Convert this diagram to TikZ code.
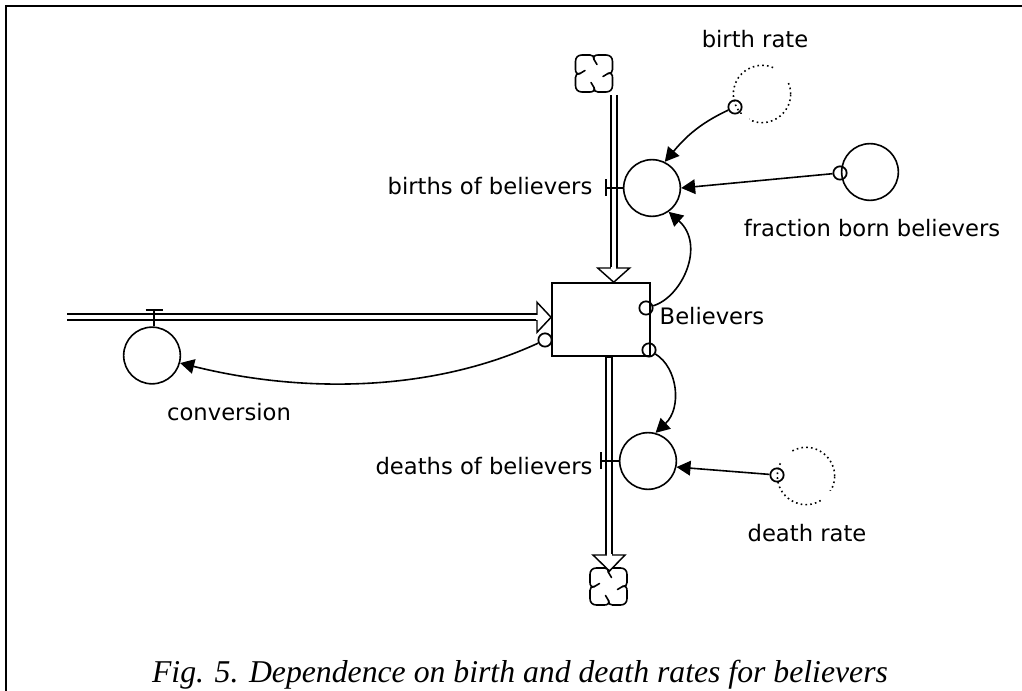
\documentclass[tikz,border=0pt]{standalone}
\usepackage{fontspec}
\setmainfont{DejaVu Sans}
\newfontfamily\capfont{Liberation Serif}
\usetikzlibrary{arrows.meta}
\tikzset{
  x=0.75pt,y=-0.75pt,
  line/.style={line width=1.1pt,black},
  auxc/.style={circle,draw,line width=1.2pt,minimum size=42.5pt,inner sep=0pt},
  ghost/.style={circle,draw,line width=1.2pt,dash pattern=on 1.2pt off 2.4pt,minimum size=43pt,inner sep=0pt},
  conn/.style={circle,draw,line width=1.3pt,minimum size=10pt,inner sep=0pt},
  stockbox/.style={rectangle,draw,line width=1.4pt,minimum width=73.5pt,minimum height=54.5pt,inner sep=0pt},
  flowline/.style={line width=6pt,black},
  flowcore/.style={line width=2.8pt,white},
  hollow/.style={draw,line width=1.1pt,fill=white,line join=miter},
  link/.style={line width=1.2pt,-{Triangle[length=10.5pt,width=11pt]}},
  lab/.style={font=\fontsize{17pt}{18pt}\selectfont,inner sep=0pt,anchor=base},
  cloudn/.style={inner sep=0pt,minimum size=25pt},
}
\begin{document}
\begin{tikzpicture}
\useasboundingbox (0,0) rectangle (1022,691);
\draw[line width=1.9pt] (6,691) -- (6,6) -- (1022,6);

% stock
\node[stockbox] (stock) at (601,319.5) {};
\node[lab] (believerslab) at (712,325) {Believers};

% clouds
\node[cloudn] (cloudtop) at (594,73.5) {};
\node[cloudn] (cloudbot) at (608.5,586.5) {};
\foreach \c in {cloudtop,cloudbot}{
  \foreach \a in {0,90,180,270}{
    \begin{scope}[shift={(\c.center)},rotate=\a]
      \draw[line width=1.2pt,line cap=round]
        (3,-9) -- (0,-14) .. controls (-1,-17) and (1,-18.5) .. (4,-18.5) -- (12,-18.5)
        .. controls (16,-18.5) and (18.5,-16) .. (18.5,-12) -- (18.5,-4)
        .. controls (18.5,-1) and (17,0) .. (14,0);
    \end{scope}
  }
}

% flow pipes
\coordinate (topend) at (613.7,268);
\coordinate (botend) at (609,555);
\coordinate (leftstart) at (67,317.3);
\coordinate (leftend) at (537,317.3);
\coordinate (topstart) at (613.7,95);
\draw[flowline] (topstart) -- (topend);
\draw[flowcore] (613.7,93) -- (613.7,270);
\draw[flowline] (stock.south -| botend) -- (botend);
\draw[flowcore] (609,358) -- (609,557);
\draw[flowline] (leftstart) -- (leftend);
\draw[flowcore] (65,317.3) -- (539,317.3);

% hollow arrowheads
\draw[hollow] (topend) ++(-16,0) -- ++(32,0) -- (stock.north -| topend) -- cycle;
\draw[hollow] (botend) ++(-16,0) -- ++(32,0) -- (609.5,571) -- cycle;
\draw[hollow] (leftend) ++(0,-15) -- ++(0,30) -- (stock.west |- leftend) -- cycle;
\draw[white,line width=2pt] (topend) ++(-2.5,0) -- ++(5,0);
\draw[white,line width=2pt] (botend) ++(-2.5,0) -- ++(5,0);
\draw[white,line width=2pt] (leftend) ++(0,-2.5) -- ++(0,5);

% auxiliaries
\node[auxc] (births) at (652,188) {};
\node[auxc] (deaths) at (648,461) {};
\node[auxc] (conv) at (152,355.5) {};
\node[auxc] (fraction) at (870,172) {};
\node[ghost] (brate) at (762,94) {};
\node[ghost] (drate) at (806,476) {};
\fill[white] (774,60) rectangle (792,82);
\fill[white] (730,114) rectangle (749,125);
\fill[white] (821,491) rectangle (840,510);
\fill[white] (781,444) rectangle (792,463);

% valves
\coordinate (vb) at (606,188);
\coordinate (vd) at (601,461);
\coordinate (vc) at (154,310);
\draw[line] (births.west) -- (vb);
\draw[line] (vb) ++(0,-8.5) -- ++(0,17);
\draw[line] (deaths.west) -- (vd);
\draw[line] (vd) ++(0,-8.5) -- ++(0,17);
\draw[line] (conv.north -| vc) -- (vc);
\draw[line] (vc) ++(-8.5,0) -- ++(17,0);

% connector circles
\node[conn] (cb) at (735,107) {};
\node[conn] (cf) at (840,173) {};
\node[conn] (cd) at (777,475) {};
\node[conn] (cs1) at (646,308) {};
\node[conn] (cs2) at (649,350) {};
\node[conn] (cs3) at (545,340) {};

% links
\draw[link] (cb) to[out=205,in=50] (births.64);
\draw[link] (cf) -- (births.east);
\draw[link] (cd) -- (deaths.-12);
\draw[link] (cs1) .. controls (682,297) and (706,245) .. (births.-55);
\draw[link] (cs2) .. controls (678,368) and (682,408) .. (deaths.75);
\draw[link] (cs3) .. controls (430,393) and (300,393) .. (conv.-15);

% labels
\node[lab] (lbrate) at (755,48) {birth rate};
\node[lab] (lbirths) at (490,195) {births of believers};
\node[lab] (lfrac) at (872,237) {fraction born believers};
\node[lab] (lconv) at (229,421) {conversion};
\node[lab] (ldeaths) at (484,475) {deaths of believers};
\node[lab] (ldrate) at (807,542) {death rate};
\node[font=\capfont\itshape\fontsize{23.8pt}{25pt}\selectfont,inner sep=0pt,anchor=base] (caption) at (520,682) {Fig. 5. Dependence on birth and death rates for believers};
\end{tikzpicture}
\end{document}
